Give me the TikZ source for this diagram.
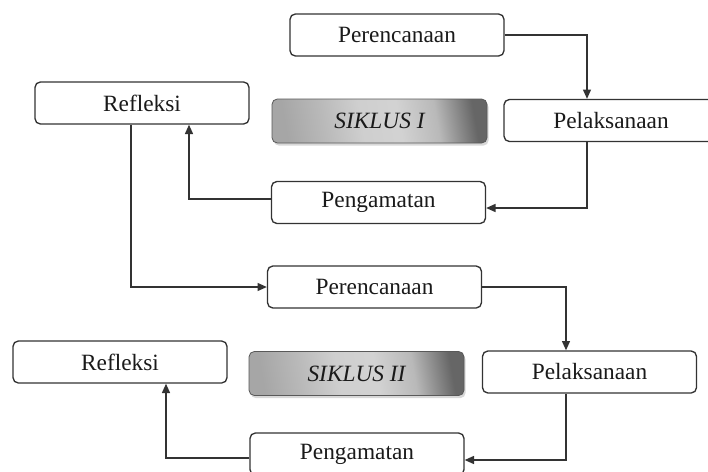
\documentclass[tikz,border=0pt]{standalone}
\usepackage{fontspec}
\setmainfont{Liberation Serif}
\usetikzlibrary{arrows.meta,calc,shadows}
\definecolor{boxline}{HTML}{333333}
\definecolor{txt}{HTML}{1A1A1A}
\pgfdeclarehorizontalshading{siklusshade}{100bp}{
  color(0bp)=(gray!70!white);
  color(25bp)=(gray!70!white);
  color(35bp)=(gray!55!white);
  color(45bp)=(gray!38!white);
  color(55bp)=(gray!35!white);
  color(65bp)=(gray!55!white);
  color(75bp)=(gray!80!black);
  color(100bp)=(gray!80!black)}
\tikzset{
  stage/.style={draw=boxline, line width=1pt, rounded corners=4pt, fill=white,
    minimum width=214*0.75pt, minimum height=42*0.75pt, inner sep=0pt,
    text=txt, font=\fontsize{17.5}{20}\selectfont},
  cyclebox/.style={draw=gray!70!black, line width=0.6pt, rounded corners=4pt,
    shading=siklusshade, shading angle=10,
    drop shadow={shadow xshift=1.2pt, shadow yshift=-2pt, fill=gray!60, opacity=0.5},
    minimum width=215*0.75pt, minimum height=44*0.75pt, inner sep=0pt,
    text=txt, font=\fontsize{17.5}{20}\selectfont\itshape},
  flow/.style={draw=boxline, line width=1pt, -{Triangle[length=7pt,width=6pt]}}
}
\begin{document}
\begin{tikzpicture}[x=0.75pt,y=-0.75pt]
\useasboundingbox (0,0) rectangle (708,472);
\clip (0,0) rectangle (708,472);
% cycle I
\node[stage] (perA) at (397,35) {Perencanaan};
\node[stage] (pelA) at (611,120.5) {Pelaksanaan};
\node[stage] (refA) at (142,103) {Refleksi};
\node[cyclebox] (sikA) at (379.5,121) {SIKLUS I};
\node[stage] (pengA) at (378.5,202.5) {Pengamatan};
% cycle II
\node[stage] (perB) at (374.5,287) {Perencanaan};
\node[stage] (pelB) at (589.5,372) {Pelaksanaan};
\node[stage] (refB) at (120,362) {Refleksi};
\node[cyclebox] (sikB) at (356.5,373.5) {SIKLUS II};
\node[stage] (pengB) at (357,454) {Pengamatan};
% connectors
\draw[flow] (perA.east) -| ($(pelA.north)+(-24,0)$);
\draw[flow] ($(pelA.south)+(-24,0)$) |- ($(pengA.east)+(0,5.5)$);
\draw[flow] ($(pengA.west)+(0,-3.5)$) -| ($(refA.south)+(47,0)$);
\draw[flow] ($(refA.south)+(-11,0)$) |- (perB.west);
\draw[flow] (perB.east) -| ($(pelB.north)+(-23.5,0)$);
\draw[flow] ($(pelB.south)+(-23.5,0)$) |- ($(pengB.east)+(0,6)$);
\draw[flow] ($(pengB.west)+(0,4)$) -| ($(refB.south)+(46,0)$);
\end{tikzpicture}
\end{document}
